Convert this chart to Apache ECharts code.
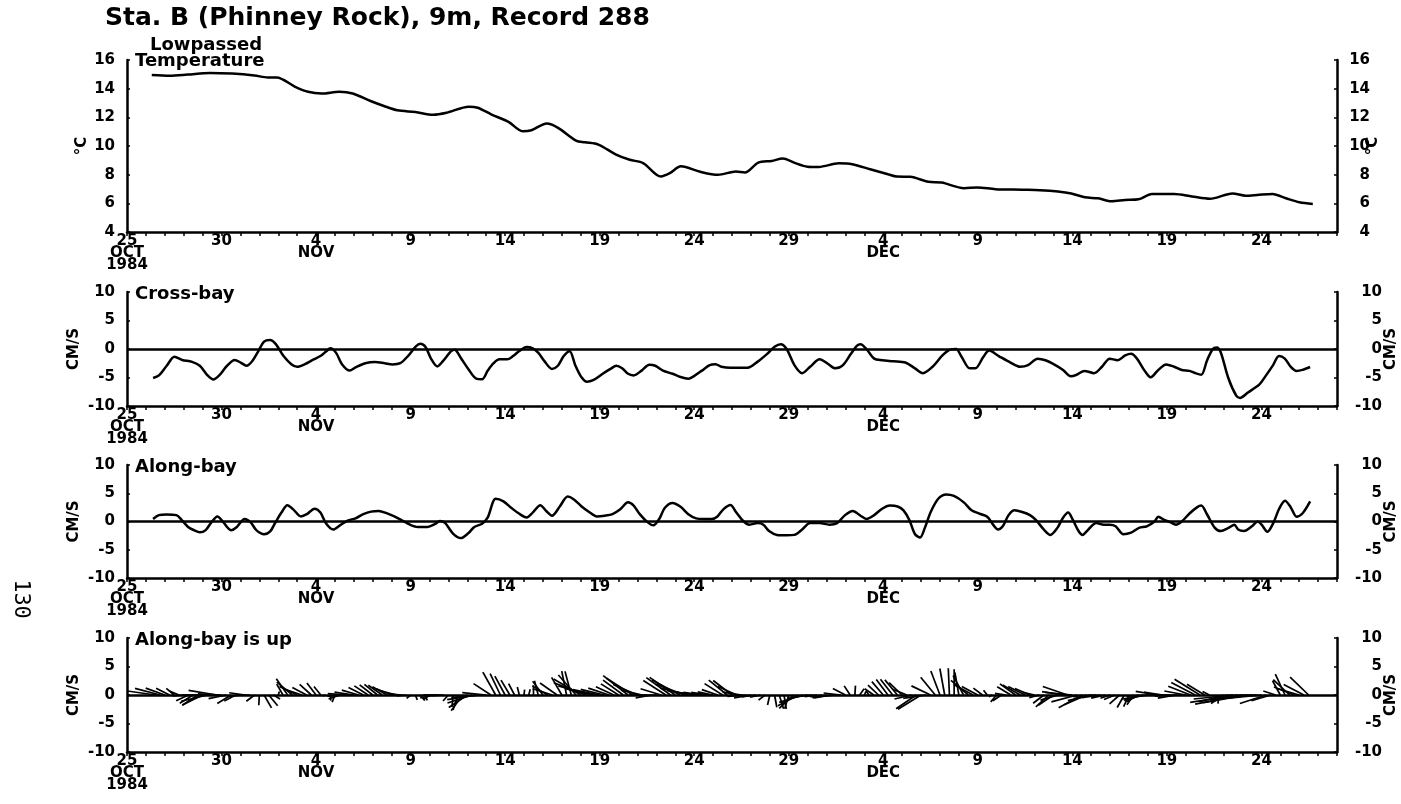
<!DOCTYPE html>
<html>
<head>
<meta charset="utf-8">
<script src="https://cdn.jsdelivr.net/npm/echarts@6/dist/echarts.min.js"></script>
<style>
html,body{margin:0;padding:0;background:#fff;}
#chart{width:1401px;height:804px;}
</style>
</head>
<body>
<div id="chart"></div>
<script>
// ---- x axis (days after 25 Oct 1984, 00:00) ----
const tickDays = [0, 5, 10, 15, 20, 25, 30, 35, 40, 45, 50, 55, 60];
const tickLabels = ['25\nOCT\n1984', '30', '4\nNOV', '9', '14', '19', '24', '29', '4\nDEC', '9', '14', '19', '24'];

// ---- Lowpassed temperature (deg C) ----
const tempDays = [1.31, 2.26, 3.20, 4.38, 5.56, 6.74, 7.45, 7.92, 8.87, 9.58, 10.29, 11.23, 11.94, 12.88, 13.59, 14.30, 15.25, 16.19, 16.90, 18.08, 18.55, 19.26, 20.20, 20.92, 21.39, 22.20, 22.80, 23.75, 24.22, 24.93, 25.87, 26.59, 27.30, 28.24, 28.71, 29.30, 30.32, 31.26, 32.21, 32.68, 33.39, 34.10, 34.69, 35.28, 35.99, 36.59, 37.65, 38.36, 39.31, 40.25, 40.72, 41.43, 42.38, 43.09, 44.27, 44.98, 45.93, 47.35, 48.29, 49.24, 49.95, 50.66, 51.37, 52.08, 52.79, 53.50, 54.21, 55.39, 56.33, 57.28, 58.47, 59.17, 59.88, 60.59, 61.30, 62.01, 62.72];
const tempVals = [14.95, 14.9, 14.98, 15.1, 15.05, 14.92, 14.78, 14.78, 14.15, 13.78, 13.66, 13.78, 13.66, 13.14, 12.79, 12.49, 12.37, 12.18, 12.32, 12.74, 12.67, 12.21, 11.67, 11.03, 11.1, 11.57, 11.27, 10.38, 10.26, 10.1, 9.4, 9.04, 8.81, 7.87, 8.1, 8.58, 8.2, 7.99, 8.22, 8.15, 8.84, 8.96, 9.12, 8.84, 8.56, 8.54, 8.79, 8.73, 8.38, 8.03, 7.87, 7.85, 7.5, 7.45, 7.06, 7.11, 6.99, 6.95, 6.92, 6.83, 6.69, 6.42, 6.35, 6.14, 6.23, 6.28, 6.65, 6.65, 6.48, 6.32, 6.69, 6.53, 6.6, 6.65, 6.35, 6.07, 5.95];

// ---- Cross-bay velocity (cm/s) ----
const crossDays = [1.38, 1.69, 2.10, 2.51, 2.92, 3.44, 3.85, 4.26, 4.57, 4.88, 5.29, 5.70, 6.01, 6.32, 6.63, 6.94, 7.25, 7.56, 7.86, 8.28, 8.69, 9.00, 9.41, 9.82, 10.23, 10.54, 10.75, 11.06, 11.37, 11.78, 12.09, 12.60, 13.12, 13.63, 14.04, 14.45, 14.86, 15.28, 15.52, 15.79, 16.10, 16.41, 16.72, 17.13, 17.33, 17.65, 18.05, 18.47, 18.78, 19.08, 19.39, 19.70, 20.11, 20.42, 20.73, 21.14, 21.46, 21.76, 22.07, 22.48, 22.79, 23.10, 23.41, 23.72, 24.03, 24.33, 24.65, 25.16, 25.57, 25.88, 26.19, 26.50, 26.80, 27.22, 27.63, 27.94, 28.35, 28.86, 29.28, 29.69, 29.99, 30.41, 30.82, 31.13, 31.44, 31.92, 32.32, 32.83, 33.34, 33.86, 34.27, 34.58, 34.89, 35.30, 35.71, 36.13, 36.64, 37.05, 37.47, 37.87, 38.29, 38.60, 38.80, 39.11, 39.52, 39.94, 40.55, 41.17, 41.68, 42.10, 42.61, 43.13, 43.53, 43.85, 44.15, 44.57, 44.87, 45.29, 45.60, 46.11, 46.73, 47.24, 47.66, 48.17, 48.58, 49.10, 49.51, 49.92, 50.23, 50.64, 51.15, 51.57, 51.98, 52.39, 52.80, 53.11, 53.42, 53.83, 54.14, 54.55, 54.96, 55.38, 55.79, 56.20, 56.51, 56.82, 57.13, 57.43, 57.64, 57.85, 58.25, 58.67, 58.87, 59.29, 59.90, 60.21, 60.62, 60.93, 61.24, 61.55, 61.86, 62.17, 62.58];
const crossVals = [-5.08, -4.63, -2.94, -1.36, -1.92, -2.26, -2.94, -4.63, -5.37, -4.63, -2.94, -1.92, -2.37, -2.94, -2.09, -0.40, 1.30, 1.58, 0.90, -1.24, -2.66, -3.11, -2.66, -1.92, -1.24, -0.40, 0.11, -0.68, -2.66, -3.79, -3.22, -2.49, -2.26, -2.49, -2.71, -2.49, -1.24, 0.45, 0.90, 0.34, -1.81, -3.05, -2.09, -0.40, -0.11, -1.53, -3.50, -5.20, -5.31, -3.79, -2.49, -1.81, -1.81, -1.24, -0.40, 0.34, 0.11, -0.68, -2.09, -3.50, -2.94, -1.24, -0.40, -2.94, -4.92, -5.76, -5.48, -4.35, -3.50, -2.94, -3.39, -4.35, -4.63, -3.79, -2.77, -2.94, -3.79, -4.35, -4.92, -5.20, -4.75, -3.79, -2.82, -2.66, -3.11, -3.30, -3.28, -3.28, -2.26, -0.85, 0.45, 0.85, 0.00, -2.82, -4.24, -3.11, -1.81, -2.54, -3.39, -2.82, -0.85, 0.56, 0.85, 0.00, -1.69, -1.98, -2.15, -2.37, -3.39, -4.24, -3.11, -1.13, -0.11, 0.00, -1.41, -3.39, -3.39, -1.41, -0.28, -1.24, -2.37, -3.11, -2.82, -1.69, -1.98, -2.82, -3.67, -4.80, -4.52, -3.84, -4.24, -3.11, -1.69, -1.98, -1.13, -0.85, -1.69, -3.84, -4.97, -3.67, -2.71, -3.11, -3.67, -3.84, -4.24, -4.52, -1.98, 0.00, 0.28, -0.56, -5.08, -8.19, -8.59, -7.63, -6.21, -4.80, -2.82, -1.24, -1.69, -3.11, -3.84, -3.67, -3.16];

// ---- Along-bay velocity (cm/s) ----
const alongDays = [1.38, 1.69, 2.10, 2.61, 2.92, 3.23, 3.54, 3.85, 4.16, 4.47, 4.78, 5.09, 5.50, 5.81, 6.22, 6.53, 6.84, 7.25, 7.56, 7.86, 8.17, 8.48, 8.79, 9.20, 9.51, 9.92, 10.23, 10.54, 10.91, 11.26, 11.67, 12.09, 12.50, 12.91, 13.32, 13.73, 14.14, 14.56, 14.97, 15.38, 15.89, 16.31, 16.55, 16.82, 17.23, 17.65, 18.05, 18.37, 18.78, 19.08, 19.50, 19.91, 20.32, 20.73, 21.14, 21.46, 21.86, 22.17, 22.48, 22.90, 23.31, 23.62, 24.03, 24.44, 24.85, 25.27, 25.68, 26.09, 26.50, 26.80, 27.12, 27.53, 27.84, 28.15, 28.45, 28.86, 29.28, 29.69, 30.10, 30.51, 30.92, 31.23, 31.54, 31.92, 32.21, 32.62, 32.93, 33.35, 33.66, 33.96, 34.38, 34.89, 35.30, 35.71, 36.13, 36.64, 37.15, 37.56, 37.98, 38.39, 38.80, 39.11, 39.52, 39.94, 40.35, 40.76, 41.07, 41.38, 41.68, 41.95, 42.20, 42.51, 42.92, 43.33, 43.74, 44.26, 44.67, 45.08, 45.50, 45.81, 46.07, 46.32, 46.63, 46.94, 47.35, 47.76, 48.07, 48.49, 48.84, 49.21, 49.51, 49.78, 50.03, 50.33, 50.54, 50.85, 51.26, 51.67, 51.98, 52.29, 52.70, 53.11, 53.53, 53.94, 54.35, 54.55, 54.86, 55.17, 55.48, 55.79, 56.20, 56.61, 56.82, 57.13, 57.54, 57.85, 58.26, 58.57, 58.77, 59.08, 59.50, 59.81, 60.01, 60.32, 60.63, 60.94, 61.25, 61.55, 61.86, 62.17, 62.58];
const alongVals = [0.45, 1.13, 1.24, 1.13, 0.17, -0.96, -1.53, -1.92, -1.53, -0.11, 0.90, -0.11, -1.53, -0.96, 0.45, -0.11, -1.53, -2.26, -1.81, -0.11, 1.58, 2.88, 2.15, 0.90, 1.30, 2.26, 1.58, -0.40, -1.41, -0.68, 0.17, 0.56, 1.30, 1.75, 1.86, 1.47, 0.90, 0.17, -0.56, -0.96, -0.96, -0.40, 0.11, -0.23, -2.09, -2.94, -2.09, -0.96, -0.40, 0.73, 4.01, 3.56, 2.43, 1.41, 0.73, 1.58, 2.88, 1.86, 1.02, 2.71, 4.41, 3.95, 2.71, 1.69, 0.90, 1.02, 1.30, 2.15, 3.39, 2.82, 1.30, -0.11, -0.68, 0.45, 2.43, 3.28, 2.60, 1.30, 0.56, 0.45, 0.45, 0.90, 2.15, 2.90, 1.69, 0.00, -0.56, -0.28, -0.56, -1.69, -2.37, -2.43, -2.37, -1.41, -0.28, -0.28, -0.56, -0.28, 1.13, 1.86, 1.02, 0.45, 1.13, 2.26, 2.82, 2.66, 1.98, 0.28, -2.26, -2.82, -1.13, 1.69, 4.07, 4.80, 4.52, 3.39, 1.98, 1.41, 0.85, -0.56, -1.41, -0.85, 1.13, 1.98, 1.69, 1.13, 0.28, -1.41, -2.37, -1.13, 0.68, 1.58, 0.28, -1.69, -2.37, -1.41, -0.28, -0.56, -0.56, -0.85, -2.26, -1.98, -1.13, -0.85, 0.00, 0.85, 0.28, -0.11, -0.56, 0.00, 1.41, 2.54, 2.82, 1.24, -1.13, -1.69, -1.13, -0.56, -1.41, -1.69, -0.85, 0.00, -0.56, -1.81, -0.28, 2.26, 3.67, 2.54, 0.85, 1.41, 3.56];

// ---- Stick plot samples, every quarter day (cross-bay = horizontal, along-bay = up), cm/s ----
const stickDays = [
  1.5, 1.75,
  2, 2.25, 2.5, 2.75, 3, 3.25, 3.5, 3.75, 4, 4.25, 4.5, 4.75, 5, 5.25, 5.5, 5.75, 6, 6.25, 6.5, 6.75,
  7, 7.25, 7.5, 7.75, 8, 8.25, 8.5, 8.75, 9, 9.25, 9.5, 9.75, 10, 10.25, 10.5, 10.75, 11, 11.25, 11.5, 11.75,
  12, 12.25, 12.5, 12.75, 13, 13.25, 13.5, 13.75, 14, 14.25, 14.5, 14.75, 15, 15.25, 15.5, 15.75, 16, 16.25, 16.5, 16.75,
  17, 17.25, 17.5, 17.75, 18, 18.25, 18.5, 18.75, 19, 19.25, 19.5, 19.75, 20, 20.25, 20.5, 20.75, 21, 21.25, 21.5, 21.75,
  22, 22.25, 22.5, 22.75, 23, 23.25, 23.5, 23.75, 24, 24.25, 24.5, 24.75, 25, 25.25, 25.5, 25.75, 26, 26.25, 26.5, 26.75,
  27, 27.25, 27.5, 27.75, 28, 28.25, 28.5, 28.75, 29, 29.25, 29.5, 29.75, 30, 30.25, 30.5, 30.75, 31, 31.25, 31.5, 31.75,
  32, 32.25, 32.5, 32.75, 33, 33.25, 33.5, 33.75, 34, 34.25, 34.5, 34.75, 35, 35.25, 35.5, 35.75, 36, 36.25, 36.5, 36.75,
  37, 37.25, 37.5, 37.75, 38, 38.25, 38.5, 38.75, 39, 39.25, 39.5, 39.75, 40, 40.25, 40.5, 40.75, 41, 41.25, 41.5, 41.75,
  42, 42.25, 42.5, 42.75, 43, 43.25, 43.5, 43.75, 44, 44.25, 44.5, 44.75, 45, 45.25, 45.5, 45.75, 46, 46.25, 46.5, 46.75,
  47, 47.25, 47.5, 47.75, 48, 48.25, 48.5, 48.75, 49, 49.25, 49.5, 49.75, 50, 50.25, 50.5, 50.75, 51, 51.25, 51.5, 51.75,
  52, 52.25, 52.5, 52.75, 53, 53.25, 53.5, 53.75, 54, 54.25, 54.5, 54.75, 55, 55.25, 55.5, 55.75, 56, 56.25, 56.5, 56.75,
  57, 57.25, 57.5, 57.75, 58, 58.25, 58.5, 58.75, 59, 59.25, 59.5, 59.75, 60, 60.25, 60.5, 60.75, 61, 61.25, 61.5, 61.75,
  62, 62.25, 62.5
];
const stickU = [
  -4.9, -4.4,
  -3.35, -2.35, -1.4, -1.7, -1.95, -2.15, -2.35, -2.75, -3.55, -4.6, -5.2, -4.95, -4.15, -3.1, -2.4, -2.0, -2.35, -2.8, -2.45, -1.45,
  -0.1, 1.3, 1.55, 1.15, 0.2, -1.1, -2.0, -2.75, -3.1, -2.85, -2.5, -2.05, -1.6, -1.2, -0.5, 0.1, -0.5, -1.95, -3.0, -3.75,
  -3.4, -2.95, -2.6, -2.4, -2.3, -2.3, -2.45, -2.55, -2.7, -2.6, -2.35, -1.6, -0.7, 0.35, 0.85, 0.45, -1.1, -2.45, -2.8, -2.0,
  -0.95, -0.2, -0.85, -2.0, -3.25, -4.3, -5.2, -5.3, -4.2, -3.05, -2.25, -1.8, -1.8, -1.55, -1.05, -0.35, 0.1, 0.25, 0.0, -0.65,
  -1.8, -2.7, -3.45, -3.0, -1.8, -0.85, -1.1, -3.1, -4.75, -5.55, -5.6, -5.25, -4.7, -4.15, -3.65, -3.15, -3.1, -3.55, -4.35, -4.6,
  -4.25, -3.7, -3.1, -2.8, -3.05, -3.6, -3.95, -4.25, -4.5, -4.9, -5.1, -5.15, -4.75, -4.15, -3.55, -3.0, -2.7, -2.8, -3.15, -3.25,
  -3.3, -3.3, -3.3, -3.3, -2.95, -2.45, -1.8, -1.15, -0.4, 0.4, 0.75, 0.4, -0.7, -2.5, -3.55, -4.15, -3.45, -2.8, -2.15, -2.0,
  -2.45, -2.95, -3.35, -3.0, -2.2, -1.05, 0.1, 0.8, 0.3, -0.55, -1.6, -1.85, -2.0, -2.05, -2.15, -2.2, -2.3, -2.5, -3.0, -3.55,
  -4.05, -3.95, -3.35, -2.55, -1.6, -0.85, -0.2, 0.0, -0.7, -1.85, -3.05, -3.4, -2.8, -1.6, -0.65, -0.55, -1.05, -1.5, -1.95, -2.4,
  -2.75, -3.1, -2.95, -2.6, -2.05, -1.75, -1.9, -2.25, -2.65, -3.1, -3.65, -4.35, -4.75, -4.5, -4.05, -3.9, -4.1, -4.0, -3.3, -2.5,
  -1.7, -1.9, -1.75, -1.25, -0.95, -1.2, -2.1, -3.4, -4.5, -4.6, -3.8, -3.2, -2.75, -2.95, -3.25, -3.6, -3.75, -3.9, -4.2, -4.45,
  -3.1, -1.2, 0.1, -0.15, -2.2, -5.1, -6.9, -8.35, -8.3, -7.7, -7.15, -6.55, -5.75, -4.6, -3.4, -2.15, -1.35, -1.7, -2.9, -3.6,
  -3.75, -3.55, -3.25
];
const stickV = [
  0.7, 1.15,
  1.2, 1.2, 1.15, 0.7, -0.15, -1.0, -1.45, -1.8, -1.75, -1.1, 0.0, 0.8, 0.2, -0.65, -1.5, -1.05, -0.3, 0.4, -0.05, -1.1,
  -1.8, -2.25, -1.9, -0.7, 0.6, 1.9, 2.85, 2.25, 1.5, 0.95, 1.3, 1.85, 2.1, 1.5, -0.15, -1.0, -1.25, -0.7, -0.2, 0.25,
  0.5, 0.85, 1.3, 1.6, 1.78, 1.85, 1.7, 1.45, 1.1, 0.7, 0.25, -0.15, -0.6, -0.85, -0.96, -0.96, -0.85, -0.5, 0.0, -0.1,
  -1.05, -2.1, -2.65, -2.75, -2.2, -1.4, -0.8, -0.45, 0.4, 2.0, 4.0, 3.75, 3.3, 2.6, 2.0, 1.4, 0.95, 1.0, 1.7, 2.5,
  2.4, 1.6, 1.1, 2.1, 3.1, 4.2, 4.15, 3.5, 2.8, 2.15, 1.6, 1.1, 0.95, 1.0, 1.2, 1.45, 1.95, 2.6, 3.39, 2.95,
  1.85, 0.85, 0.0, -0.5, -0.1, 1.1, 2.55, 3.05, 3.1, 2.65, 1.9, 1.2, 0.75, 0.5, 0.45, 0.45, 0.55, 0.95, 2.0, 2.6,
  2.55, 1.5, 0.5, -0.25, -0.5, -0.35, -0.4, -0.9, -1.75, -2.15, -2.4, -2.42, -2.4, -2.35, -1.9, -1.3, -0.6, -0.28, -0.28, -0.35,
  -0.5, -0.5, -0.3, 0.35, 1.15, 1.6, 1.65, 1.1, 0.65, 0.7, 1.1, 1.75, 2.35, 2.7, 2.75, 2.65, 2.15, 1.0, -0.7, -2.4,
  -2.5, -0.6, 1.6, 3.1, 4.2, 4.65, 4.7, 4.5, 3.95, 3.4, 2.55, 1.85, 1.5, 1.2, 0.85, -0.3, -1.2, -1.0, 0.3, 1.45,
  1.95, 1.75, 1.5, 1.15, 0.45, -0.45, -1.45, -2.1, -1.8, -0.9, 0.6, 1.5, 0.45, -1.2, -2.25, -1.7, -1.0, -0.3, -0.45, -0.56,
  -0.56, -0.8, -1.55, -2.2, -2.05, -1.7, -1.2, -0.95, -0.7, -0.2, 0.65, 0.5, 0.1, -0.2, -0.55, -0.1, 0.7, 1.55, 2.2, 2.75,
  1.9, 0.6, -0.9, -1.5, -1.5, -1.15, -0.7, -1.3, -1.6, -1.35, -0.85, -0.15, -0.55, -1.5, -1.0, 0.7, 2.5, 3.65, 2.7, 1.4,
  1.1, 1.85, 3.15
];

// ---- panel axis tick values ----
const tempTicks = { min: 4, max: 16, step: 2 };
const velTicks = { min: -10, max: 10, step: 5 };

const FONT = "'DejaVu Sans',sans-serif";
const BLACK = '#000';

const grids = [
  { left: 127, right: 64, top: 60, height: 172, containLabel: false, outerBoundsMode: 'none' },
  { left: 127, right: 64, top: 292, height: 114, containLabel: false, outerBoundsMode: 'none' },
  { left: 127, right: 64, top: 465, height: 113, containLabel: false, outerBoundsMode: 'none' },
  { left: 127, right: 64, top: 638, height: 114, containLabel: false, outerBoundsMode: 'none' }
];

function xLabel(val) {
  for (let i = 0; i < tickDays.length; i++) {
    if (Math.abs(val - tickDays[i]) < 1e-6) return tickLabels[i];
  }
  return '';
}

const xAxes = grids.map((g, i) => ({
  type: 'value', gridIndex: i, min: 0, max: 64, interval: 1,
  axisLine: { onZero: false, lineStyle: { color: BLACK, width: 2.5 } },
  axisTick: { show: true, length: 4, lineStyle: { color: BLACK, width: 1.5 } },
  splitLine: { show: false },
  axisLabel: {
    formatter: xLabel, color: BLACK, fontFamily: FONT, fontWeight: 'bold',
    fontSize: 15, lineHeight: 12, margin: 3
  }
}));

function yAxisPair(gi, t, name, leftGap, rightGap, rightMargin) {
  const common = {
    type: 'value', gridIndex: gi, min: t.min, max: t.max, interval: t.step,
    axisLine: { show: true, onZero: false, lineStyle: { color: BLACK, width: 2.5 } },
    axisTick: { show: true, length: 3, inside: true, lineStyle: { color: BLACK, width: 1.5 } },
    splitLine: { show: false },
    name: name, nameLocation: 'middle', nameRotate: 90, nameMoveOverlap: false,
    nameTextStyle: { color: BLACK, fontFamily: FONT, fontWeight: 'bold', fontSize: 15 }
  };
  const lab = { color: BLACK, fontFamily: FONT, fontWeight: 'bold', fontSize: 15 };
  return [
    Object.assign({}, common, { position: 'left', nameGap: leftGap, axisLabel: Object.assign({ margin: 12 }, lab) }),
    Object.assign({}, common, { position: 'right', nameGap: rightGap, axisLabel: Object.assign({ margin: rightMargin, align: 'right' }, lab) })
  ];
}

const yAxes = [].concat(
  yAxisPair(0, tempTicks, '°C', 37, 29, 33),
  yAxisPair(1, velTicks, 'CM/S', 45, 47, 45),
  yAxisPair(2, velTicks, 'CM/S', 45, 47, 45),
  yAxisPair(3, velTicks, 'CM/S', 45, 47, 45)
);

const zeroLine = {
  silent: true, symbol: ['none', 'none'], label: { show: false },
  lineStyle: { color: BLACK, width: 2.5, type: 'solid' },
  data: [{ yAxis: 0 }]
};

const lineStyle = { color: BLACK, width: 2.5 };

const series = [
  {
    type: 'line', xAxisIndex: 0, yAxisIndex: 0, showSymbol: false, smooth: 0.3,
    data: tempDays.map((d, i) => [d, tempVals[i]]), lineStyle: lineStyle
  },
  {
    type: 'line', xAxisIndex: 1, yAxisIndex: 2, showSymbol: false, smooth: 0.3,
    data: crossDays.map((d, i) => [d, crossVals[i]]), lineStyle: lineStyle, markLine: zeroLine
  },
  {
    type: 'line', xAxisIndex: 2, yAxisIndex: 4, showSymbol: false, smooth: 0.3,
    data: alongDays.map((d, i) => [d, alongVals[i]]), lineStyle: lineStyle, markLine: zeroLine
  },
  {
    type: 'custom', xAxisIndex: 3, yAxisIndex: 6, clip: false,
    data: stickDays.map((d, i) => [d, stickU[i], stickV[i]]),
    encode: { x: 0, y: 2 },
    renderItem: function (params, api) {
      const t = api.value(0), u = api.value(1), v = api.value(2);
      const base = api.coord([t, 0]);
      const tip = api.coord([t, v]);
      const unitPx = base[1] - api.coord([t, 1])[1];
      return {
        type: 'line',
        shape: { x1: base[0], y1: base[1], x2: base[0] + u * unitPx, y2: tip[1] },
        style: { stroke: BLACK, lineWidth: 1.7 }
      };
    },
    markLine: zeroLine
  }
];

function txt(left, top, text, size, extra) {
  return Object.assign({
    type: 'text', left: left, top: top, silent: true,
    style: { text: text, fill: BLACK, font: 'bold ' + size + 'px ' + FONT }
  }, extra || {});
}

const graphic = [
  txt(105, 6, 'Sta. B (Phinney Rock), 9m, Record 288', 25),
  txt(150, 36, 'Lowpassed', 18),
  txt(135, 52, 'Temperature', 18),
  txt(135, 285, 'Cross-bay', 18),
  txt(135, 458, 'Along-bay', 18),
  txt(135, 631, 'Along-bay is up', 18),
  {
    type: 'text', x: 21, y: 599, rotation: -Math.PI / 2, silent: true,
    style: { text: '130', fill: BLACK, font: '22px "DejaVu Sans Mono", monospace', align: 'center', verticalAlign: 'middle' }
  }
];

const chart = echarts.init(document.getElementById('chart'), null, { renderer: 'canvas' });
chart.setOption({
  animation: false,
  backgroundColor: '#fff',
  grid: grids,
  xAxis: xAxes,
  yAxis: yAxes,
  series: series,
  graphic: graphic
});
</script>
</body>
</html>
